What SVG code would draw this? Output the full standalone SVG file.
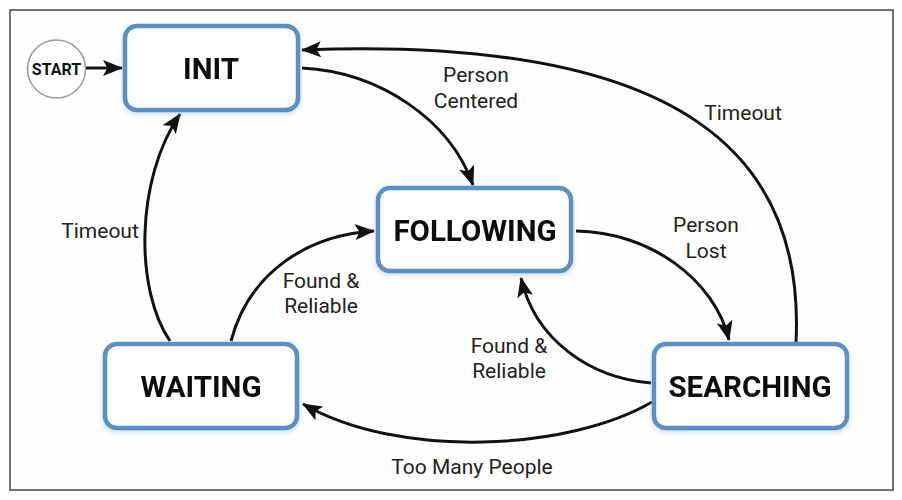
<svg xmlns="http://www.w3.org/2000/svg" width="902" height="500" viewBox="0 0 902 500">
<defs>
<style>
.node{fill:#ffffff;stroke:#5b8fc3;stroke-width:4.5;}
.ntext{font-family:Roboto,"Liberation Sans",sans-serif;font-weight:700;font-size:29.5px;fill:#111;text-anchor:middle;}
.lbl{font-family:Roboto,"Liberation Sans",sans-serif;font-size:21px;fill:#222;text-anchor:middle;}
.edge{fill:none;stroke:#111;stroke-width:3;marker-end:url(#arr);}
</style>
<marker id="arr" viewBox="0 0 20 16" refX="19" refY="8" markerWidth="20" markerHeight="16" markerUnits="userSpaceOnUse" orient="auto">
<path d="M0,0 L20,8 L0,16 L4.5,8 z" fill="#111"/>
</marker>
<filter id="glow" x="-10%" y="-10%" width="120%" height="130%">
<feDropShadow dx="0" dy="2" stdDeviation="2.5" flood-color="#8fb6de" flood-opacity="0.5"/>
</filter>
</defs>
<rect x="0" y="0" width="902" height="500" fill="#ffffff"/>
<rect x="10" y="10" width="883" height="480" fill="#fefefe" stroke="#444" stroke-width="1.5"/>

<g id="connectors">
<line class="edge" x1="86" y1="68" x2="122" y2="68"/>
<path class="edge" d="M302,68 C380,72 450,120 473,185"/>
<path class="edge" d="M796,342 C805,160 690,35 302,50"/>
<path class="edge" d="M576,231 C650,232 715,280 729,340"/>
<path class="edge" d="M651,383 C590,378 535,340 521,278"/>
<path class="edge" d="M652,402 C570,450 400,460 303,404"/>
<path class="edge" d="M170,341 C135,290 135,180 180,114"/>
<path class="edge" d="M231,341 C250,270 310,235 374,231"/>
</g>

<g id="labels">
<text class="lbl" x="476" y="82">Person</text>
<text class="lbl" x="476" y="108">Centered</text>
<text class="lbl" x="706" y="232">Person</text>
<text class="lbl" x="706" y="258">Lost</text>
<text class="lbl" x="743" y="120">Timeout</text>
<text class="lbl" x="100" y="238">Timeout</text>
<text class="lbl" x="321" y="288">Found &amp;</text>
<text class="lbl" x="321" y="313">Reliable</text>
<text class="lbl" x="509" y="353">Found &amp;</text>
<text class="lbl" x="509" y="378">Reliable</text>
<text class="lbl" x="472" y="474">Too Many People</text>
</g>

<g id="start">
<circle cx="56.5" cy="69" r="29" fill="#fff" stroke="#999" stroke-width="1.5"/>
<text x="56.5" y="75" font-family="Roboto,'Liberation Sans',sans-serif" font-weight="700" font-size="16" fill="#111" text-anchor="middle">START</text>
</g>
<g id="init" filter="url(#glow)">
<rect class="node" x="125" y="26" width="173" height="84" rx="12"/>
<text class="ntext" x="211" y="78.5">INIT</text>
</g>
<g id="following" filter="url(#glow)">
<rect class="node" x="378" y="188" width="193" height="83" rx="12"/>
<text class="ntext" x="475" y="240.5">FOLLOWING</text>
</g>
<g id="waiting" filter="url(#glow)">
<rect class="node" x="105" y="344" width="192" height="84" rx="12"/>
<text class="ntext" x="201" y="396.5">WAITING</text>
</g>
<g id="searching" filter="url(#glow)">
<rect class="node" x="654" y="344" width="193" height="84" rx="12"/>
<text class="ntext" x="750" y="396.5">SEARCHING</text>
</g>
</svg>
